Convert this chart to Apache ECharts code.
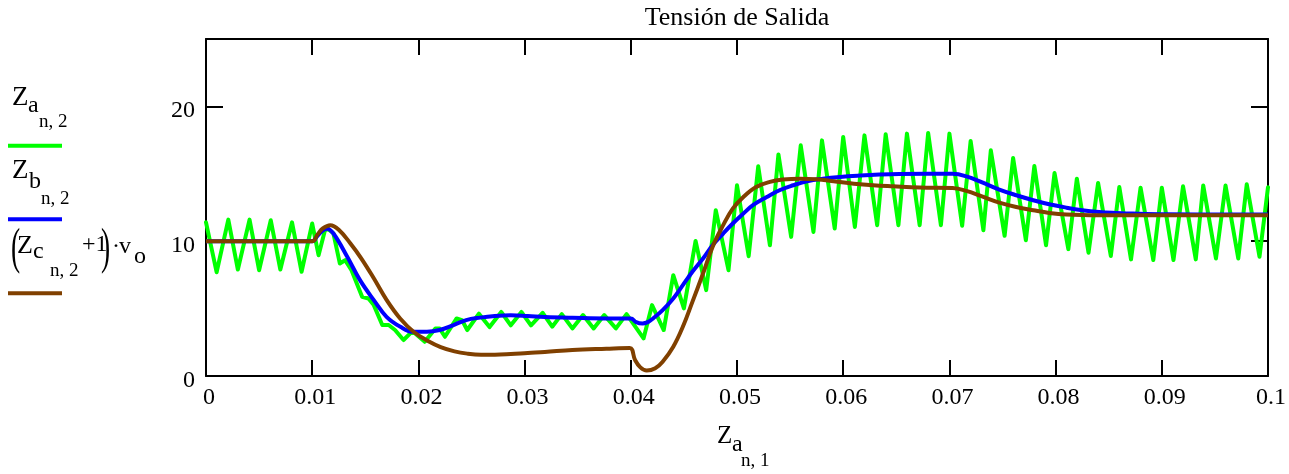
<!DOCTYPE html>
<html>
<head>
<meta charset="utf-8">
<title>Tensión de Salida</title>
<script src="https://cdn.jsdelivr.net/npm/echarts@6/dist/echarts.min.js"></script>
<style>
  html, body { margin: 0; padding: 0; background: #fff; }
  #chart { width: 1289px; height: 474px; }
</style>
</head>
<body>
<div id="chart"></div>
<script>
// Tick labels
const xTickLabels = ['0', '0.01', '0.02', '0.03', '0.04', '0.05', '0.06', '0.07', '0.08', '0.09', '0.1'];
const yTickValues = [0, 10, 20];
const yTickLabels = ['0', '10', '20'];

// Z_a[n,2] : switched output voltage (ripple)
const seriesA = [
  [0, 11.4], [0.0010, 7.7], [0.0021, 11.6], [0.0030, 7.9], [0.0041, 11.6], [0.0050, 7.85],
  [0.0061, 11.55], [0.0070, 7.9], [0.0081, 11.4], [0.0090, 7.73], [0.0100, 11.31], [0.0106, 8.96],
  [0.0112, 10.81], [0.0115, 10.9], [0.0120, 10.57], [0.0126, 8.35], [0.0131, 8.59], [0.0137, 7.85],
  [0.0147, 5.88], [0.0153, 5.75], [0.0158, 5.26], [0.0166, 3.78], [0.0172, 3.78], [0.0178, 3.41],
  [0.0186, 2.67], [0.0194, 3.29], [0.0197, 3.16], [0.0206, 2.54], [0.0216, 3.53], [0.0220, 3.53],
  [0.0225, 2.91], [0.0236, 4.27], [0.0241, 4.15], [0.0246, 3.41], [0.0257, 4.62], [0.0267, 3.63],
  [0.0278, 4.75], [0.0287, 3.76], [0.0297, 4.75], [0.0306, 3.76], [0.0317, 4.69], [0.0326, 3.66],
  [0.0335, 4.59], [0.0345, 3.53], [0.0355, 4.52], [0.0365, 3.53], [0.0375, 4.52], [0.0386, 3.53],
  [0.0396, 4.59], [0.0412, 2.79], [0.0420, 5.26], [0.0431, 3.41], [0.0440, 7.48], [0.0450, 5.01],
  [0.0461, 10.02], [0.0471, 6.37], [0.0480, 12.3], [0.0492, 7.85], [0.0500, 14.15], [0.0511, 8.89],
  [0.0520, 15.56], [0.0531, 9.70], [0.0539, 16.44], [0.0551, 10.32], [0.0560, 17.11], [0.0572, 10.69],
  [0.0580, 17.48], [0.0592, 10.94], [0.0600, 17.73], [0.0611, 11.06], [0.0620, 17.85], [0.0632, 11.19],
  [0.0640, 17.93], [0.0652, 11.19], [0.0660, 17.98], [0.0672, 11.19], [0.0680, 18.03], [0.0692, 11.19],
  [0.0700, 17.98], [0.0712, 11.14], [0.0720, 17.43], [0.0732, 10.81], [0.0739, 16.74], [0.0752, 10.4],
  [0.0760, 16.17], [0.0772, 10.07], [0.0780, 15.58], [0.0791, 9.7], [0.0799, 15.06], [0.0812, 9.41],
  [0.0820, 14.64], [0.0831, 9.14], [0.0840, 14.32], [0.0852, 8.9], [0.0860, 14.02], [0.0871, 8.65],
  [0.0880, 13.97], [0.0892, 8.6], [0.0900, 13.97], [0.0911, 8.6], [0.0920, 14.07], [0.0932, 8.65],
  [0.0939, 14.14], [0.0951, 8.72], [0.0960, 14.14], [0.0972, 8.72], [0.0980, 14.22], [0.0992, 8.85],
  [0.1000, 14.0]
];

// Z_b[n,2] : averaged output voltage
const seriesB = [
  [0, 10], [0.0100, 10], [0.0105, 10.4], [0.0110, 10.8], [0.0114, 10.93], [0.0120, 10.57],
  [0.0133, 8.84], [0.0145, 7.11], [0.0158, 5.63], [0.0170, 4.39], [0.0183, 3.65], [0.0195, 3.28],
  [0.0208, 3.28], [0.0220, 3.41], [0.0233, 3.78], [0.0245, 4.15], [0.0258, 4.33], [0.0272, 4.45],
  [0.0287, 4.5], [0.0303, 4.45], [0.0319, 4.38], [0.0345, 4.32], [0.0377, 4.27], [0.0400, 4.27],
  [0.0405, 4.0], [0.0411, 3.9], [0.0416, 4.0], [0.0421, 4.27], [0.0430, 4.89], [0.0440, 5.75],
  [0.0449, 6.74], [0.0458, 7.73], [0.0468, 8.72], [0.0477, 9.7], [0.0487, 10.57], [0.0496, 11.31],
  [0.0506, 12.05], [0.0515, 12.67], [0.0528, 13.28], [0.0540, 13.78], [0.0553, 14.15], [0.0566, 14.45],
  [0.0581, 14.64], [0.0597, 14.77], [0.0616, 14.87], [0.0634, 14.94], [0.0653, 14.98], [0.0703, 15.0],
  [0.0716, 14.81], [0.0732, 14.32], [0.0747, 13.83], [0.0763, 13.41], [0.0779, 13.04], [0.0794, 12.74],
  [0.0810, 12.49], [0.0825, 12.30], [0.0841, 12.17], [0.0857, 12.10], [0.0873, 12.05], [0.0904, 12.0],
  [0.1000, 11.98]
];

// (Z_c[n,2] + 1) * v_o : small-signal model output
const seriesC = [
  [0, 10], [0.0100, 10], [0.0105, 10.5], [0.0110, 10.95], [0.0117, 11.19], [0.0125, 10.85],
  [0.0136, 9.83], [0.0146, 8.75], [0.0158, 7.25], [0.0170, 5.65], [0.0183, 4.25], [0.0196, 3.25],
  [0.0209, 2.6], [0.0221, 2.15], [0.0234, 1.83], [0.0246, 1.66], [0.0259, 1.58], [0.0272, 1.58],
  [0.0287, 1.63], [0.0303, 1.71], [0.0319, 1.78], [0.0345, 1.93], [0.0377, 2.02], [0.0399, 2.07],
  [0.0404, 1.19], [0.0409, 0.64], [0.0415, 0.4], [0.0423, 0.57], [0.0430, 1.06], [0.0440, 2.17],
  [0.0449, 3.65], [0.0458, 5.5], [0.0468, 7.6], [0.0477, 9.58], [0.0487, 11.19], [0.0496, 12.42],
  [0.0506, 13.28], [0.0518, 14.02], [0.0531, 14.4], [0.0543, 14.57], [0.0559, 14.64], [0.0575, 14.59],
  [0.0591, 14.45], [0.0610, 14.27], [0.0628, 14.15], [0.0647, 14.07], [0.0672, 13.98], [0.0703, 13.95],
  [0.0716, 13.73], [0.0732, 13.28], [0.0747, 12.86], [0.0763, 12.54], [0.0779, 12.30], [0.0794, 12.10],
  [0.0810, 11.98], [0.0841, 11.93], [0.1000, 11.93]
];

const FONT = '"Liberation Serif", "DejaVu Serif", serif';
const GREEN = '#00ff00', BLUE = '#0000ff', BROWN = '#804000';

// text placed by its alphabetic baseline (em-box middle sits 0.3375em above it)
function txt(s, x, base, size, extra, align) {
  const a = align || 'left';
  return Object.assign({
    type: 'text', x: x, y: base - 0.3375 * size, silent: true,
    style: {
      text: s, font: size + 'px ' + FONT, fill: '#000',
      align: a, verticalAlign: 'middle', textAlign: a, textVerticalAlign: 'middle'
    }
  }, extra || {});
}
function sample(y, color) {
  return { type: 'line', silent: true, shape: { x1: 8, y1: y, x2: 62, y2: y },
           style: { stroke: color, lineWidth: 4 } };
}

const axisLine = { show: true, onZero: false, lineStyle: { color: '#000', width: 2 } };
const tickStyle = { color: '#000', width: 2 };
const labelStyle = { color: '#000', fontSize: 24, fontFamily: FONT };

const chart = echarts.init(document.getElementById('chart'), null, { renderer: 'canvas' });
chart.setOption({
  animation: false,
  backgroundColor: '#fff',
  grid: { left: 206, right: 21, top: 39, bottom: 98 },
  xAxis: [
    {
      type: 'value', position: 'bottom', min: 0, max: 0.1, interval: 0.01,
      axisLine: axisLine, splitLine: { show: false },
      axisTick: { inside: true, length: 16, lineStyle: tickStyle },
      axisLabel: Object.assign({ margin: 10, padding: [0, 0, 0, 6],
        formatter: v => xTickLabels[Math.round(v * 100)] }, labelStyle)
    },
    {
      type: 'value', position: 'top', min: 0, max: 0.1, interval: 0.01,
      axisLine: axisLine, splitLine: { show: false },
      axisTick: { inside: true, length: 16, lineStyle: tickStyle },
      axisLabel: { show: false }
    }
  ],
  yAxis: [
    {
      type: 'value', position: 'left', min: 0, max: 25, interval: 10,
      axisLine: axisLine, splitLine: { show: false },
      axisTick: { inside: true, length: 17, lineStyle: tickStyle },
      axisLabel: { show: false }
    },
    {
      type: 'value', position: 'right', min: 0, max: 25, interval: 10,
      axisLine: axisLine, splitLine: { show: false },
      axisTick: { inside: true, length: 17, lineStyle: tickStyle },
      axisLabel: { show: false }
    }
  ],
  series: [
    { type: 'line', data: seriesA, showSymbol: false, z: 2,
      lineStyle: { color: GREEN, width: 4, join: 'round', cap: 'round' } },
    { type: 'line', data: seriesB, showSymbol: false, smooth: 0.4, z: 3,
      lineStyle: { color: BLUE, width: 4, join: 'round' } },
    { type: 'line', data: seriesC, showSymbol: false, smooth: 0.4, z: 4,
      lineStyle: { color: BROWN, width: 4, join: 'round' } }
  ]
});

// y tick labels sit a little below their ticks, placed through the axis scale
const yLabels = yTickValues.map((v, i) => {
  const py = chart.convertToPixel({ yAxisIndex: 0 }, v);
  return txt(yTickLabels[i], 195, py + 12.5, 24, null, 'right');
});

chart.setOption({
  graphic: { elements: yLabels.concat([
    // chart title
    txt('Tensión de Salida', 737, 27, 26, null, 'center'),
    // x axis name  Z_a_{n,1}
    txt('Z', 717, 445, 25), txt('a', 732, 453, 24), txt('n, 1', 741, 467, 19),
    // legend: Z_a_{n,2}
    txt('Z', 12, 107, 27), txt('a', 28, 114, 24), txt('n, 2', 39, 128, 19),
    sample(145.7, GREEN),
    // legend: Z_b_{n,2}
    txt('Z', 12, 180, 27), txt('b', 29, 190, 24), txt('n, 2', 41, 205, 19),
    sample(219.3, BLUE),
    // legend: (Z_c_{n,2} + 1)·v_o
    txt('(', 11, 267, 50, { scaleX: 0.55 }),
    txt('Z', 17, 255, 26), txt('c', 33, 260, 24), txt('n, 2', 50, 277, 19),
    txt('+1', 82, 253, 24),
    txt(')', 101, 267, 50, { scaleX: 0.55 }),
    txt('·', 112, 255, 24), txt('v', 119, 255, 24), txt('o', 134, 265, 24),
    sample(293.3, BROWN)
  ]) }
});
</script>
</body>
</html>
